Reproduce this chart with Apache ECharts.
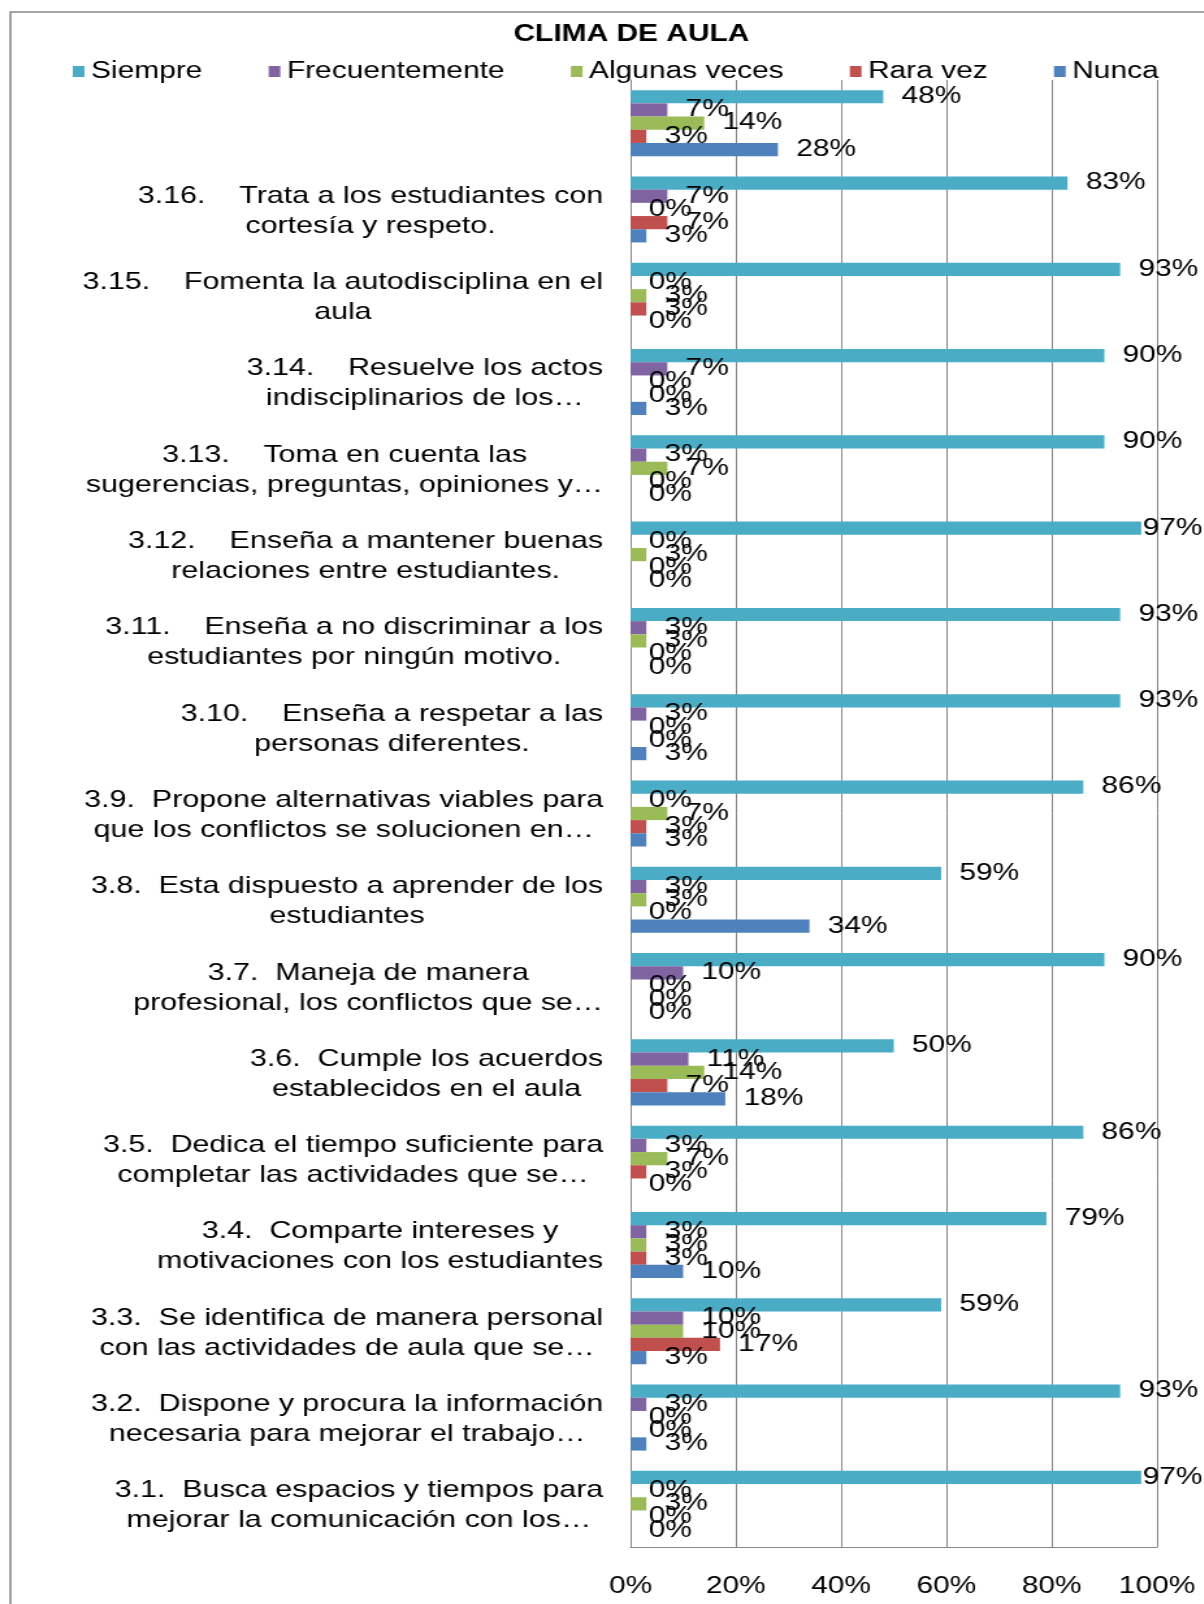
<!DOCTYPE html>
<html>
<head>
<meta charset="utf-8">
<script src="https://cdn.jsdelivr.net/npm/echarts@6/dist/echarts.min.js"></script>
<style>
  html, body { margin: 0; padding: 0; background: #ffffff; overflow: hidden; }
  #wrap { width: 1204px; height: 1604px; overflow: hidden; position: relative; }
  /* the reference picture is stretched horizontally; reproduce that stretch */
  #chart { width: 926px; height: 1604px; transform: scaleX(1.3); transform-origin: 0 0; }
</style>
</head>
<body>
<div id="wrap"><div id="chart"></div></div>
<script>
// ---- data (top to bottom as drawn) ----
var categories = [
  '',
  '3.16.    Trata a los estudiantes con\ncortesía y respeto.',
  '3.15.    Fomenta la autodisciplina en el\naula',
  '3.14.    Resuelve los actos\nindisciplinarios de los…',
  '3.13.    Toma en cuenta las\nsugerencias, preguntas, opiniones y…',
  '3.12.    Enseña a mantener buenas\nrelaciones entre estudiantes.',
  '3.11.    Enseña a no discriminar a los\nestudiantes por ningún motivo.',
  '3.10.    Enseña a respetar a las\npersonas diferentes.',
  '3.9.  Propone alternativas viables para\nque los conflictos se solucionen en…',
  '3.8.  Esta dispuesto a aprender de los\nestudiantes',
  '3.7.  Maneja de manera\nprofesional, los conflictos que se…',
  '3.6.  Cumple los acuerdos\nestablecidos en el aula',
  '3.5.  Dedica el tiempo suficiente para\ncompletar las actividades que se…',
  '3.4.  Comparte intereses y\nmotivaciones con los estudiantes',
  '3.3.  Se identifica de manera personal\ncon las actividades de aula que se…',
  '3.2.  Dispone y procura la información\nnecesaria para mejorar el trabajo…',
  '3.1.  Busca espacios y tiempos para\nmejorar la comunicación con los…'
];
var seriesNames = ['Siempre', 'Frecuentemente', 'Algunas veces', 'Rara vez', 'Nunca'];
var siempre        = [48, 83, 93, 90, 90, 97, 93, 93, 86, 59, 90, 50, 86, 79, 59, 93, 97];
var frecuentemente = [ 7,  7,  0,  7,  3,  0,  3,  3,  0,  3, 10, 11,  3,  3, 10,  3,  0];
var algunasVeces   = [14,  0,  3,  0,  7,  3,  3,  0,  7,  3,  0, 14,  7,  3, 10,  0,  3];
var raraVez        = [ 3,  7,  3,  0,  0,  0,  0,  0,  3,  0,  0,  7,  3,  3, 17,  0,  0];
var nunca          = [28,  3,  0,  3,  0,  0,  0,  3,  3, 34,  0, 18,  0, 10,  3,  3,  0];
var xTicks = [0, 20, 40, 60, 80, 100];

var colors = ['#4BACC6', '#8064A2', '#9BBB59', '#C0504D', '#4F81BD'];
var FONT = '"Liberation Sans", Arial, sans-serif';
var seriesData = [siempre, frecuentemente, algunasVeces, raraVez, nunca];
var CHART_W = 926;

var chart = echarts.init(document.getElementById('chart'), null, { renderer: 'canvas' });

var series = seriesNames.map(function (name, i) {
  return {
    name: name,
    type: 'bar',
    data: seriesData[i],
    barGap: '0%',
    barCategoryGap: '23.5%',
    itemStyle: { color: colors[i] },
    label: {
      show: true,
      position: 'right',
      distance: 14,
      formatter: '{c}%',
      color: '#000000',
      fontFamily: FONT,
      fontSize: 23
    },
    // keep labels inside the chart box, as the original does for the longest bars
    labelLayout: function (p) {
      var r = p.labelRect;
      var limit = CHART_W - 1;
      if (r.x + r.width > limit) {
        return { x: limit - r.width, y: r.y, align: 'left', verticalAlign: 'top' };
      }
      return {};
    },
    emphasis: { disabled: true },
    animation: false
  };
});

chart.setOption({
  animation: false,
  backgroundColor: '#ffffff',
  color: colors,
  title: {
    text: 'CLIMA DE AULA',
    left: 395,
    top: 23,
    padding: 0,
    textStyle: { fontFamily: FONT, fontWeight: 'bold', fontSize: 23, color: '#000000' }
  },
  legend: {
    data: seriesNames,
    left: 56,
    top: 60,
    padding: 0,
    icon: 'rect',
    itemWidth: 9,
    itemHeight: 11,
    itemGap: 51,
    textStyle: { fontFamily: FONT, fontSize: 23, color: '#000000' }
  },
  grid: { left: 485, right: 36, top: 80, bottom: 57, containLabel: false },
  xAxis: {
    type: 'value',
    min: xTicks[0],
    max: xTicks[xTicks.length - 1],
    interval: xTicks[1] - xTicks[0],
    axisLine: { show: true, lineStyle: { color: '#868686', width: 1 } },
    axisTick: { show: false },
    splitLine: { show: true, lineStyle: { color: '#868686', width: 1 } },
    axisLabel: {
      formatter: '{value}%',
      margin: 28,
      color: '#000000',
      fontFamily: FONT,
      fontSize: 23
    }
  },
  yAxis: {
    type: 'category',
    inverse: true,
    data: categories,
    axisLine: { show: true, lineStyle: { color: '#868686', width: 1 } },
    axisTick: { show: false },
    splitLine: { show: false },
    axisLabel: {
      interval: 0,
      margin: 21,
      align: 'right',
      padding: [4, 0, 0, 0],
      color: '#000000',
      fontFamily: FONT,
      fontSize: 23.4,
      lineHeight: 30,
      formatter: function (v) {
        if (!v) return '';
        return v.split('\n').map(function (l) { return '{c|' + l + '}'; }).join('\n');
      },
      rich: {
        c: { align: 'center', fontFamily: FONT, fontSize: 23.4, lineHeight: 30, color: '#000000' }
      }
    }
  },
  graphic: [{
    type: 'rect',
    silent: true,
    z: 100,
    shape: { x: 8, y: 12, width: 1000, height: 1700 },
    style: { fill: 'none', stroke: '#898989', lineWidth: 1.6 }
  }],
  series: series
});
</script>
</body>
</html>
